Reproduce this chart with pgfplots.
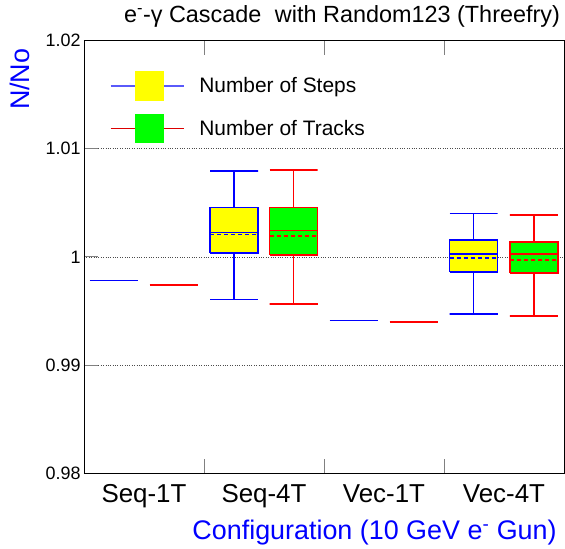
\documentclass[border=0pt]{standalone}
\usepackage{pgfplots}
\pgfplotsset{compat=1.18}
\usepackage{fontspec}
\setmainfont{Liberation Sans}
\definecolor{rootblue}{RGB}{0,0,255}
\definecolor{rootred}{RGB}{255,0,0}
\definecolor{rootyellow}{RGB}{255,255,0}
\definecolor{rootgreen}{RGB}{0,255,0}
\definecolor{legblue}{RGB}{90,90,250}
\definecolor{legred}{RGB}{220,0,0}
\begin{document}
\begin{tikzpicture}
\begin{axis}[
  scale only axis, width=480bp, height=432.3bp,
  xmin=0, xmax=4, ymin=0.98, ymax=1.02,
  clip=false,
  axis line style={line width=0.8bp},
  tick style={line width=0.8bp},
  tick align=inside, major tick length=14bp,
  xtick={1,2,3}, xticklabel=\empty,
  extra x ticks={0.5,1.5,2.5,3.5},
  extra x tick labels={Seq-1T,Seq-4T,Vec-1T,Vec-4T},
  extra x tick style={major tick length=0pt, grid=none,
     tick label style={font=\fontsize{26}{30}\selectfont, yshift=-8bp}},
  ytick={0.98,0.99,1,1.01,1.02},
  yticklabels={0.98,0.99,1,1.01,1.02},
  ytick pos=left,
  y tick label style={font=\fontsize{18}{21}\selectfont},
  scaled y ticks=false,
  ymajorgrids, grid style={dotted, black!70, line width=0.7bp},
  legend style={draw=none, fill=none, at={(0.054,0.93)}, anchor=north west,
     font=\fontsize{21}{24}\selectfont, row sep=13bp, inner sep=0pt,
     nodes={inner sep=0pt}, column sep=15bp},
  legend cell align=left,
  every axis plot/.append style={line width=1.5bp, forget plot},
]
\addlegendimage{legend image code/.code={%
  \draw[legblue, line width=1.2bp] (0bp,0bp) -- (73bp,0bp);
  \fill[rootyellow] (25bp,-14bp) rectangle (53bp,14bp);}}
\addlegendentry{Number of Steps}
\addlegendimage{legend image code/.code={%
  \draw[legred, line width=1.2bp] (0bp,0bp) -- (73bp,0bp);
  \fill[rootgreen] (25bp,-14bp) rectangle (53bp,14bp);}}
\addlegendentry{Number of Tracks}

% ---- Seq-1T (single values)
\addplot[color=rootblue] coordinates {(0.046,0.99783) (0.446,0.99783)};
\addplot[color=rootred] coordinates {(0.546,0.99741) (0.946,0.99741)};

% ---- Seq-4T, steps
\addplot[color=rootblue] coordinates {
 (1.05,1.00795) (1.45,1.00795) (1.25,1.00795) (1.25,1.00456)};
\addplot[color=rootblue] coordinates {
 (1.25,1.00037) (1.25,0.99605) (1.05,0.99605) (1.45,0.99605)};
\addplot[color=rootblue, fill=rootyellow] coordinates {
 (1.05,1.00037) (1.45,1.00037) (1.45,1.00456) (1.05,1.00456) (1.05,1.00037)};
\addplot[color=rootblue] coordinates {(1.05,1.00225) (1.45,1.00225)};
\addplot[color=rootblue, dash pattern=on 4bp off 3bp]
  coordinates {(1.05,1.00206) (1.45,1.00206)};
% ---- Seq-4T, tracks
\addplot[color=rootred] coordinates {
 (1.546,1.00804) (1.946,1.00804) (1.746,1.00804) (1.746,1.00456)};
\addplot[color=rootred] coordinates {
 (1.746,1.00018) (1.746,0.99566) (1.546,0.99566) (1.946,0.99566)};
\addplot[color=rootred, fill=rootgreen] coordinates {
 (1.546,1.00018) (1.946,1.00018) (1.946,1.00456) (1.546,1.00456) (1.546,1.00018)};
\addplot[color=rootred] coordinates {(1.546,1.00243) (1.946,1.00243)};
\addplot[color=rootred, dash pattern=on 4bp off 3bp]
  coordinates {(1.546,1.00194) (1.946,1.00194)};

% ---- Vec-1T (single values)
\addplot[color=rootblue] coordinates {(2.046,0.99411) (2.446,0.99411)};
\addplot[color=rootred] coordinates {(2.546,0.99399) (2.946,0.99399)};

% ---- Vec-4T, steps
\addplot[color=rootblue] coordinates {
 (3.046,1.00400) (3.446,1.00400) (3.246,1.00400) (3.246,1.00157)};
\addplot[color=rootblue] coordinates {
 (3.246,0.99861) (3.246,0.99473) (3.046,0.99473) (3.446,0.99473)};
\addplot[color=rootblue, fill=rootyellow] coordinates {
 (3.046,0.99861) (3.446,0.99861) (3.446,1.00157) (3.046,1.00157) (3.046,0.99861)};
\addplot[color=rootblue] coordinates {(3.046,1.00028) (3.446,1.00028)};
\addplot[color=rootblue, dash pattern=on 4bp off 3bp]
  coordinates {(3.046,0.99988) (3.446,0.99988)};
% ---- Vec-4T, tracks
\addplot[color=rootred] coordinates {
 (3.748,1.00139) (3.748,1.00385) (3.548,1.00385) (3.948,1.00385)};
\addplot[color=rootred] coordinates {
 (3.748,0.99852) (3.748,0.99455) (3.548,0.99455) (3.948,0.99455)};
\addplot[color=rootred, fill=rootgreen] coordinates {
 (3.548,0.99852) (3.948,0.99852) (3.948,1.00139) (3.548,1.00139) (3.548,0.99852)};
\addplot[color=rootred] coordinates {(3.548,1.00028) (3.948,1.00028)};
\addplot[color=rootred, dash pattern=on 4bp off 3bp]
  coordinates {(3.548,0.99970) (3.948,0.99970)};

% titles
\node[font=\fontsize{23.5}{28}\selectfont, anchor=east, inner sep=0pt] at (rel axis cs:0.992,1.0555)
  {e\textsuperscript{-}-γ Cascade\hspace{0.3em} with Random123 (Threefry)};
\node[font=\fontsize{27}{30}\selectfont, text=rootblue, rotate=90, anchor=east, inner sep=0pt]
  at (rel axis cs:-0.133,0.982) {N/No};
\node[font=\fontsize{27}{30}\selectfont, text=rootblue, anchor=east, inner sep=0pt]
  at (rel axis cs:0.985,-0.138) {Configuration (10 GeV e\textsuperscript{-} Gun)};
\end{axis}
\path (current axis.south west) ++(-84bp,-76bp) rectangle ++(565bp,549bp);
\end{tikzpicture}
\end{document}
